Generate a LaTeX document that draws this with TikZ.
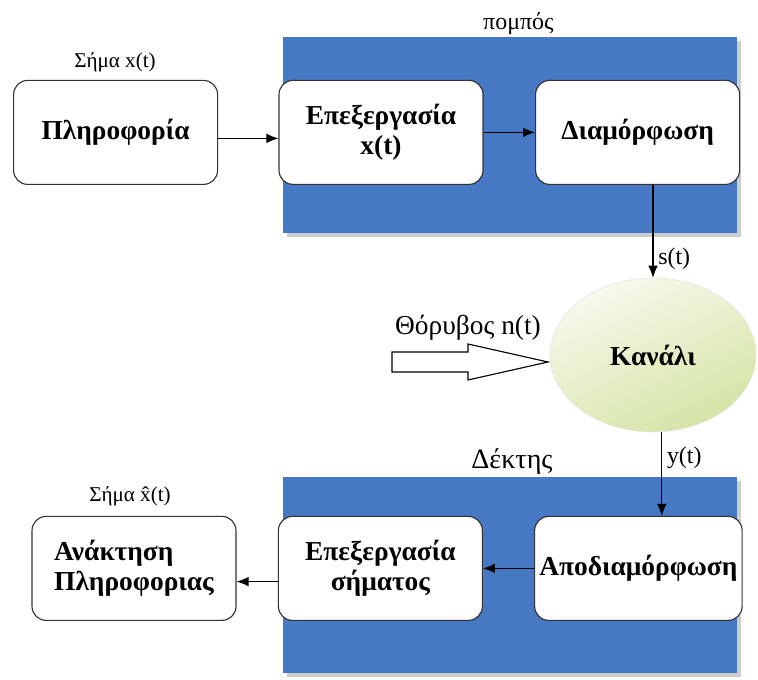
\documentclass[tikz,border=0pt]{standalone}
\usepackage{fontspec}
\setmainfont{Liberation Serif}
\usetikzlibrary{arrows,arrows.meta,calc,shapes,positioning,shadows}
\definecolor{stageblue}{RGB}{70,120,196}
\definecolor{chgreen}{RGB}{212,228,165}
\tikzset{
    block/.style={
    rectangle,rounded corners=10pt,draw=black!80,fill=white,thick,
    minimum width=5.1cm,minimum height=2.6cm,align=center,
    font=\fontsize{19.5}{21}\selectfont\bfseries
    },
    stage/.style={
    rectangle,fill=stageblue,draw=none,
    minimum width=11.35cm,minimum height=4.9cm,
    drop shadow={shadow xshift=0.09cm,shadow yshift=-0.09cm,fill=black!20,opacity=1}
    },
    channel/.style={
    ellipse,draw=black!10,top color=chgreen!20,bottom color=chgreen,shading angle=25,
    minimum width=5.15cm,minimum height=3.85cm,
    font=\fontsize{19.5}{21}\selectfont\bfseries
    },
    lbl/.style={
    font=\fontsize{17}{19}\selectfont
    },
    siglbl/.style={
    font=\fontsize{15}{17}\selectfont
    },
    flow/.style={
    -{Latex[length=3mm,width=2.4mm]},thick
    },
    noise/.style={
    draw=black,fill=white,thick
    },
}
\begin{document}
\begin{tikzpicture}
  \useasboundingbox (0,0) rectangle (18.95,17);
  % transmitter and receiver
  \node[stage] (tx) at (12.75,13.625) {};
  \node[stage] (rx) at (12.75,2.625) {};
  \node[lbl] (txlbl) at (12.96,16.4) {πομπός};
  \node[lbl,font=\fontsize{20}{22}\selectfont] (rxlbl) at (12.8,5.45) {Δέκτης};

  \node[block] (info) at (2.89,13.69) {Πληροφορία};
  \node[block] (proc) at (9.525,13.69) {Επεξεργασία\\x(t)};
  \node[block] (mod) at (15.94,13.69) {Διαμόρφωση};
  \node[channel] (chan) at (16.325,8.125) {Κανάλι};
  \node[block] (demod) at (15.96,2.79) {Αποδιαμόρφωση};
  \node[block] (sproc) at (9.51,2.79) {Επεξεργασία\\σήματος};
  \node[block,align=left] (rec) at (3.35,2.79) {Ανάκτηση\\Πληροφοριας};

  \node[siglbl] (xin) at (2.875,15.45) {Σήμα x(t)};
  \node[siglbl] (xout) at (3.25,4.6) {Σήμα x̂(t)};

  \draw[flow] ([yshift=-0.15cm]info.east) -- ([yshift=-0.15cm]proc.west);
  \draw[flow] (proc) -- (mod);
  \draw[flow] (chan.north |- mod.south) -- node[lbl,right,pos=0.8] {s(t)} (chan.north);
  \draw[flow] ([xshift=0.22cm]chan.south) -- node[lbl,right,pos=0.3] {y(t)} ([xshift=0.22cm]chan.south |- demod.north);
  \draw[flow] (demod) -- (sproc);
  \draw[flow] ([yshift=-0.33cm]sproc.west) -- ([yshift=-0.33cm]rec.east);

  % noise
  \coordinate (ntip) at (13.7,7.95);
  \draw[noise] (ntip) -- ++(-2,0.45) -- ++(0,-0.2) -- ++(-1.9,0) -- ++(0,-0.5)
    -- ++(1.9,0) -- ++(0,-0.2) -- cycle;
  \node[lbl,font=\fontsize{19.5}{21}\selectfont] (nlbl) at (11.7,8.8) {Θόρυβος n(t)};
\end{tikzpicture}
\end{document}
